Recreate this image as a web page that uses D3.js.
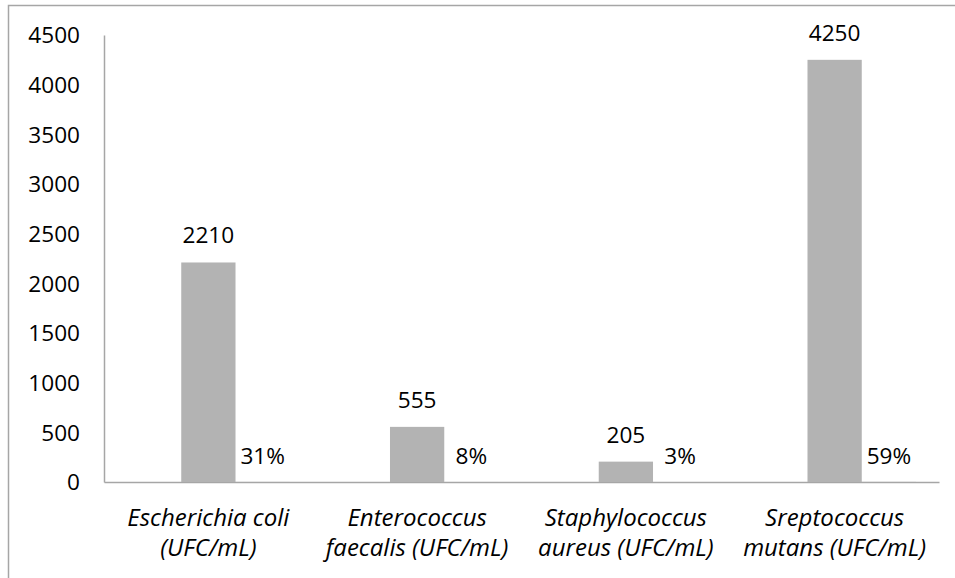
<!DOCTYPE html>
<html>
<head>
<meta charset="utf-8">
<script src="https://cdn.jsdelivr.net/npm/d3@7"></script>
<style>
  html, body { margin: 0; padding: 0; background: #fff; }
  svg { display: block; }
  text { font-family: "Open Sans", Lato, sans-serif; fill: #000; }
</style>
</head>
<body>
<svg id="chart" width="955" height="578"></svg>
<script>
// Bacterial counts per species and their share of the total
const categories = [
  ["Escherichia coli", "(UFC/mL)"],
  ["Enterococcus", "faecalis (UFC/mL)"],
  ["Staphylococcus", "aureus (UFC/mL)"],
  ["Sreptococcus", "mutans (UFC/mL)"]
];
const counts = [2210, 555, 205, 4250];
const shares = [0.31, 0.08, 0.03, 0.59];
const yTicks = [0, 500, 1000, 1500, 2000, 2500, 3000, 3500, 4000, 4500];

const svg = d3.select("#chart");
const W = 955, H = 578;
const plot = { left: 104, right: 939, top: 35, bottom: 482 };
const FS = 22.6;      // numbers
const FS_CAT = 24;    // italic category names

// outer chart frame
svg.append("rect")
  .attr("x", 8.5).attr("y", 5.5)
  .attr("width", W + 20).attr("height", H + 20)
  .attr("fill", "none").attr("stroke", "#a6a6a6").attr("stroke-width", 1.5);

const x0 = d3.scaleBand()
  .domain(d3.range(categories.length))
  .range([plot.left, plot.right]);
const barW = x0.bandwidth() * 0.26;
// count bar sits on the category centre, share bar right beside it
const x1 = d3.scaleBand()
  .domain(["count", "share"])
  .range([x0.bandwidth() / 2 - barW / 2, x0.bandwidth() / 2 + barW * 1.5]);

const y = d3.scaleLinear().domain([0, 4500]).range([plot.bottom, plot.top]);

// y axis
const yAxis = d3.axisLeft(y).tickValues(yTicks).tickSize(0).tickPadding(24)
  .tickFormat(d3.format("d"));
const gy = svg.append("g").attr("transform", `translate(${plot.left},0)`).call(yAxis);
gy.select(".domain").attr("stroke", "#a6a6a6").attr("stroke-width", 1.5);
gy.selectAll("text").attr("font-size", FS).attr("font-family", "'Open Sans', sans-serif")
  .attr("dy", "0.35em").attr("fill", "#000");

// x axis baseline
const gx = svg.append("g").attr("transform", `translate(0,${plot.bottom})`)
  .call(d3.axisBottom(x0).tickSize(0).tickFormat(""));
gx.select(".domain").attr("stroke", "#a6a6a6").attr("stroke-width", 1.5);

// category labels (two lines, italic)
const cat = svg.append("g");
categories.forEach((lines, i) => {
  const cx = x0(i) + x0.bandwidth() / 2;
  const t = cat.append("text")
    .attr("x", cx).attr("y", 518)
    .attr("text-anchor", "middle")
    .attr("font-size", FS_CAT).attr("font-style", "italic");
  lines.forEach((ln, k) => {
    t.append("tspan").attr("x", cx).attr("dy", k === 0 ? "0.35em" : 30).text(ln);
  });
});

// count bars
svg.append("g").selectAll("rect").data(counts).join("rect")
  .attr("x", (d, i) => x0(i) + x1("count"))
  .attr("y", d => y(d))
  .attr("width", x1.bandwidth())
  .attr("height", d => y(0) - y(d))
  .attr("fill", "#b3b3b3");

// share bars (fractions on the same axis, so practically flat)
svg.append("g").selectAll("rect").data(shares).join("rect")
  .attr("x", (d, i) => x0(i) + x1("share"))
  .attr("y", d => y(d))
  .attr("width", x1.bandwidth())
  .attr("height", d => y(0) - y(d))
  .attr("fill", "#7f7f7f");

// value labels
svg.append("g").selectAll("text").data(counts).join("text")
  .attr("x", (d, i) => x0(i) + x1("count") + x1.bandwidth() / 2)
  .attr("y", d => y(d) - 27)
  .attr("dy", "0.35em")
  .attr("text-anchor", "middle")
  .attr("font-size", FS)
  .text(d => d);

svg.append("g").selectAll("text").data(shares).join("text")
  .attr("x", (d, i) => x0(i) + x1("share") + x1.bandwidth() / 2)
  .attr("y", d => y(d) - 26)
  .attr("dy", "0.35em")
  .attr("text-anchor", "middle")
  .attr("font-size", FS)
  .text(d => d3.format(".0%")(d));
</script>
</body>
</html>
